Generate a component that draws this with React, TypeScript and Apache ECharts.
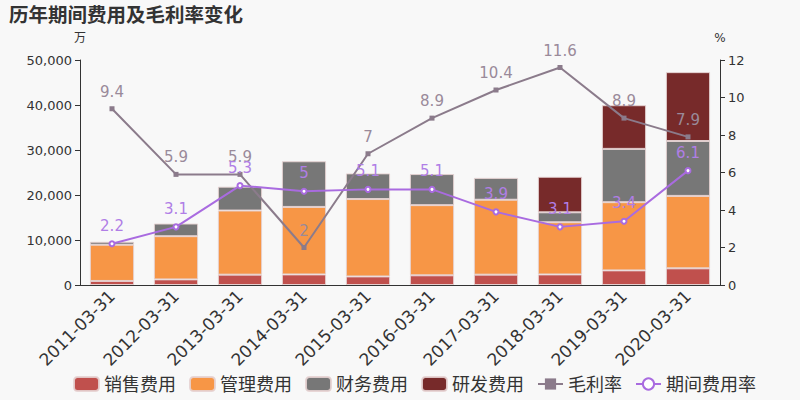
import React, { useEffect, useRef } from "react";
import * as echarts from "echarts";

const categories = ["2011-03-31", "2012-03-31", "2013-03-31", "2014-03-31", "2015-03-31", "2016-03-31", "2017-03-31", "2018-03-31", "2019-03-31", "2020-03-31"];
const sales = [900, 1250, 2300, 2350, 1900, 2150, 2300, 2350, 3250, 3700];
const mgmt = [8050, 9600, 14250, 15000, 17200, 15600, 16650, 11600, 15150, 16100];
const fin = [650, 2800, 5300, 10150, 5700, 6900, 4850, 2200, 11850, 12200];
const rd = [0, 0, 0, 0, 0, 0, 0, 7900, 9700, 15300];
const grossMargin = [9.4, 5.9, 5.9, 2, 7, 8.9, 10.4, 11.6, 8.9, 7.9];
const expenseRate = [2.2, 3.1, 5.3, 5, 5.1, 5.1, 3.9, 3.1, 3.4, 6.1];

const FONT = "DejaVu Sans, Noto Sans CJK SC, sans-serif";

export default function App() {
  const ref = useRef<HTMLDivElement>(null);
  useEffect(() => {
    const chart = echarts.init(ref.current!, null, { renderer: "svg" });
    const barStyle = (color: string) => ({ color, borderColor: "rgba(230,210,210,0.9)", borderWidth: 1 });
    const bar = (name: string, data: number[], color: string) => ({
      name,
      type: "bar",
      stack: "total",
      data: data.map((v) => (v === 0 ? null : v)),
      barWidth: "69%",
      itemStyle: barStyle(color),
    });
    chart.setOption({
      animation: false,
      backgroundColor: "#f8f8f8",
      textStyle: { fontFamily: FONT },
      title: {
        text: "历年期间费用及毛利率变化",
        left: 4,
        top: 1,
        textStyle: { fontSize: 19.5, fontWeight: "bold", color: "#333", fontFamily: FONT },
      },
      legend: {
        bottom: 2,
        left: 68,
        itemWidth: 25,
        itemHeight: 14,
        itemGap: 13,
        textStyle: { fontSize: 18, color: "#333" },
        data: [
          { name: "销售费用", icon: "roundRect" },
          { name: "管理费用", icon: "roundRect" },
          { name: "财务费用", icon: "roundRect" },
          { name: "研发费用", icon: "roundRect" },
          { name: "毛利率" },
          { name: "期间费用率" },
        ],
      },
      grid: { left: 80, right: 80, top: 60, bottom: 115 },
      xAxis: {
        type: "category",
        data: categories,
        axisLine: { lineStyle: { color: "#333" } },
        axisTick: { lineStyle: { color: "#333" } },
        axisLabel: { rotate: 45, fontSize: 17, color: "#333", margin: 8 },
      },
      yAxis: [
        {
          type: "value",
          name: "万",
          min: 0,
          max: 50000,
          interval: 10000,
          nameTextStyle: { fontSize: 12, color: "#333", align: "center" },
          nameGap: 16,
          axisLine: { show: true, lineStyle: { color: "#333" } },
          axisTick: { show: true },
          splitLine: { show: false },
          axisLabel: { fontSize: 13, color: "#333" },
        },
        {
          type: "value",
          name: "%",
          min: 0,
          max: 12,
          interval: 2,
          nameTextStyle: { fontSize: 12, color: "#333", align: "center" },
          nameGap: 16,
          axisLine: { show: true, lineStyle: { color: "#333" } },
          axisTick: { show: true },
          splitLine: { show: false },
          axisLabel: { fontSize: 13, color: "#333" },
        },
      ],
      series: [
        bar("销售费用", sales, "#c0504d"),
        bar("管理费用", mgmt, "#f79646"),
        bar("财务费用", fin, "#777777"),
        bar("研发费用", rd, "#772a2a"),
        {
          name: "毛利率",
          type: "line",
          yAxisIndex: 1,
          data: grossMargin,
          symbol: "rect",
          symbolSize: 5,
          lineStyle: { color: "#8b7b8b", width: 2 },
          itemStyle: { color: "#8b7b8b" },
          label: { show: true, position: "top", fontSize: 15, color: "#9a8a9a", distance: 7 },
        },
        {
          name: "期间费用率",
          type: "line",
          yAxisIndex: 1,
          data: expenseRate,
          symbol: "emptyCircle",
          symbolSize: 5,
          lineStyle: { color: "#a96be0", width: 2 },
          itemStyle: { color: "#a96be0", borderColor: "#a96be0" },
          label: { show: true, position: "top", fontSize: 15, color: "#b07ee6", distance: 7 },
        },
      ],
    });
    return () => chart.dispose();
  }, []);
  return <div ref={ref} style={{ position: "fixed", left: 0, top: 0, width: 800, height: 400 }} />;
}
